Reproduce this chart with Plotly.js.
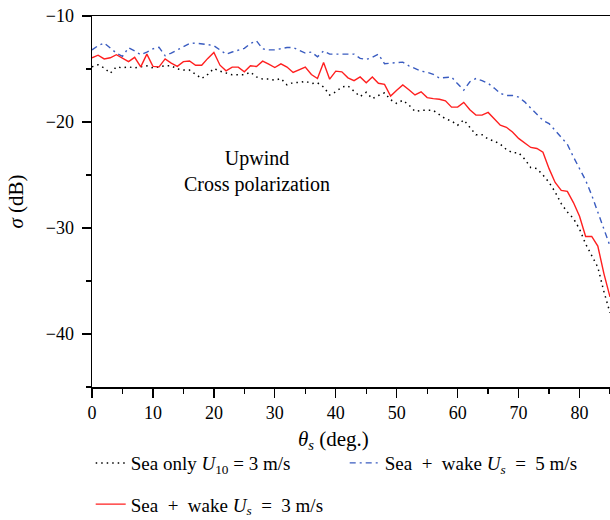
<!DOCTYPE html>
<html>
<head>
<meta charset="utf-8">
<script src="https://cdn.plot.ly/plotly-3.0.1.min.js"></script>
<style>
html,body{margin:0;padding:0;background:#fff;}
#chart{width:610px;height:520px;}
</style>
</head>
<body>
<div id="chart"></div>
<script>
// Scattering angle (deg.)
const theta = [0,1,2,3,4,5,6,7,8,9,10,11,12,13,14,15,16,17,18,19,20,21,22,23,24,25,26,27,28,29,30,31,32,33,34,35,36,37,38,39,40,41,42,43,44,45,46,47,48,49,50,51,52,53,54,55,56,57,58,59,60,61,62,63,64,65,66,67,68,69,70,71,72,73,74,75,76,77,78,79,80,81,82,83,84,85];

// Sea only U10 = 3 m/s (dB)
const seaOnly = [-14.8,-14.6,-14.9,-15.4,-14.8,-14.9,-14.8,-14.9,-14.8,-14.7,-14.9,-14.8,-14.7,-14.7,-15.0,-15.1,-15.1,-15.5,-15.9,-15.5,-14.95,-15.2,-15.4,-15.55,-15.55,-15.55,-15.3,-15.75,-15.95,-15.95,-16.05,-15.9,-16.5,-16.28,-16.28,-16.15,-16.37,-16.3,-16.7,-17.45,-17.15,-16.7,-16.6,
  -17.1,-17.6,-17.2,-17.8,-17.5,-17.25,-17.9,-18.25,-17.95,-18.4,-19.0,-18.9,-18.9,-18.9,-19.3,-19.7,-19.9,-20.3,-19.8,-20.5,
  -21.2,-21.2,-21.6,-21.8,-22.1,-22.6,-22.9,-22.9,-23.5,-24.3,-24.4,-25.0,-25.7,-26.6,-27.7,-28.5,-29.1,-30.1,-31.5,-32.6,-33.7,-36.0,-38.0];

// Sea + wake Us = 3 m/s (dB)
const wake3 = [-13.94,-13.7,-14.05,-13.94,-13.65,-14.0,-14.3,-13.9,-14.8,-13.6,-14.75,-14.8,-14.05,-14.45,-14.75,-14.3,-14.25,-14.65,-14.65,-14.0,-13.44,-14.64,
  -15.17,-14.82,-14.82,-15.27,-14.70,-14.76,-14.26,-14.54,-14.86,-14.51,-14.82,-15.33,-15.08,-14.82,-15.52,-15.90,-14.38,-15.96,-15.20,-15.27,-15.83,
  -16.1,-15.75,-16.3,-15.75,-16.35,-16.45,-17.55,-17.0,-16.5,-16.95,-17.45,-17.15,-17.7,-17.8,-17.85,-18.0,-18.6,-18.6,-18.15,-18.85,-19.35,-19.35,-19.1,-19.7,-20.3,-20.5,-20.95,-21.55,-21.95,-22.4,-22.5,-22.85,-24.4,-25.7,-26.45,-26.55,-27.6,-28.9,-30.8,-30.8,-31.7,-34.3,-36.5];

// Sea + wake Us = 5 m/s (dB)
const wake5 = [-13.2,-12.8,-12.55,-13.0,-13.5,-13.8,-13.0,-13.3,-13.65,-13.4,-13.1,-12.95,-13.75,-13.5,-13.2,-12.9,-12.6,-12.55,-12.6,-12.7,
  -12.8,-13.2,-13.6,-13.4,-13.2,-13.05,-12.6,-12.35,-13.1,-13.2,-13.2,-13.1,-12.97,-12.97,-13.2,-13.5,-13.4,-13.85,-13.3,-13.6,-13.6,-13.6,-13.6,
  -13.6,-14.0,-14.1,-13.9,-13.6,-14.5,-14.45,-14.35,-14.35,-14.7,-14.95,-15.2,-15.3,-15.5,-15.85,-15.8,-15.75,-16.4,-17.0,-16.2,-15.9,-16.1,-16.35,-16.8,-17.3,-17.5,-17.5,-17.65,-18.1,-18.7,-19.3,-19.85,-20.15,-20.8,-21.4,-22.1,-23.3,-24.4,-25.5,-26.9,-28.5,-30.2,-31.7];

const names = [
  'Sea only <i>U</i><sub>10</sub> = 3 m/s',
  'Sea\u2002+\u2002wake <i>U<sub>s</sub></i>\u2002=\u20025 m/s',
  'Sea\u2002+\u2002wake <i>U<sub>s</sub></i>\u2002=\u20023 m/s'
];
const noteText = 'Upwind<br>Cross polarization';
const xTitle = '<i>θ<sub>s</sub></i> (deg.)';
const yTitle = '<i>σ</i> (dB)';

const FONT = 'Liberation Serif, Times New Roman, serif';

const traces = [
  {x: theta, y: seaOnly, name: names[0], mode: 'lines', legend: 'legend',
   line: {color: '#000000', width: 1.5, dash: '1.5px,4px'}},
  {x: theta, y: wake5, name: names[1], mode: 'lines', legend: 'legend',
   line: {color: '#3a5cc0', width: 1.4, dash: '6px,4px,2px,4px'}},
  {x: theta, y: wake3, name: names[2], mode: 'lines', legend: 'legend2',
   line: {color: '#ff1f1f', width: 1.4}}
];

const axisCommon = {
  showline: true, linecolor: '#000', linewidth: 1.5,
  ticks: 'outside', ticklen: 9, tickwidth: 1.3, tickcolor: '#000',
  showgrid: false, zeroline: false,
  tickfont: {family: FONT, size: 18, color: '#000'}
};

const legendFont = {family: FONT, size: 19, color: '#000'};

const layout = {
  width: 610, height: 520,
  margin: {l: 92, r: 0, t: 16, b: 133, autoexpand: false},
  paper_bgcolor: '#fff', plot_bgcolor: '#fff',
  font: {family: FONT, size: 18, color: '#000'},
  xaxis: Object.assign({}, axisCommon, {
    range: [0, 85], tick0: 0, dtick: 10, mirror: true,
    minor: {dtick: 5, ticks: 'outside', ticklen: 5, tickwidth: 1.3, tickcolor: '#000'}
  }),
  yaxis: Object.assign({}, axisCommon, {
    range: [-45, -10], tick0: 0, dtick: 10, ticklabelstandoff: 4,
    minor: {dtick: 5, ticks: 'outside', ticklen: 5, tickwidth: 1.3, tickcolor: '#000'},
    title: {text: yTitle, font: {family: FONT, size: 21}, standoff: 16}
  }),
  legend: {
    orientation: 'h', x: -0.0025, y: -0.205, xanchor: 'left', yanchor: 'middle',
    entrywidth: 209, entrywidthmode: 'pixels',
    font: legendFont, bgcolor: 'rgba(0,0,0,0)'
  },
  legend2: {
    orientation: 'h', x: -0.0025, y: -0.316, xanchor: 'left', yanchor: 'middle',
    font: legendFont, bgcolor: 'rgba(0,0,0,0)'
  },
  annotations: [
    {xref: 'x', yref: 'y', x: 27.1, y: -24.7, text: noteText, showarrow: false,
     align: 'center', xanchor: 'center', yanchor: 'middle',
     font: {family: FONT, size: 20, color: '#000'}},
    {xref: 'paper', yref: 'paper', x: 0.467, y: -0.143, text: xTitle, showarrow: false,
     xanchor: 'center', yanchor: 'middle', font: {family: FONT, size: 21, color: '#000'}}
  ]
};

Plotly.newPlot('chart', traces, layout, {displayModeBar: false, staticPlot: true});
</script>
</body>
</html>
